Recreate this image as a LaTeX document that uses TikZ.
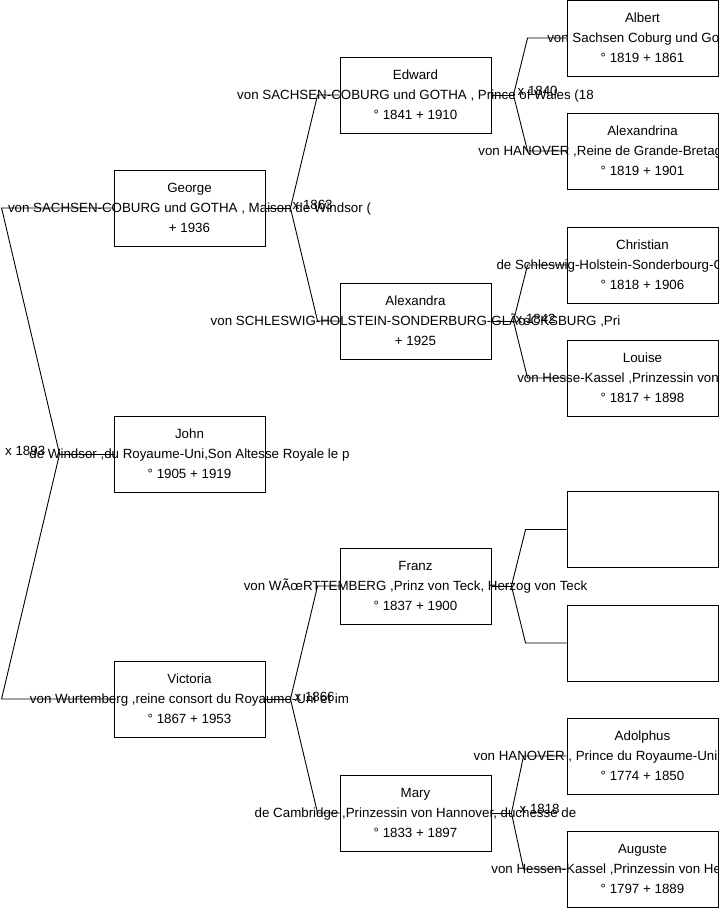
\documentclass[tikz,border=0pt]{standalone}
\usepackage{fontspec}
\setmainfont{Liberation Sans}
\usetikzlibrary{calc}
\begin{document}
\begin{tikzpicture}[x=1pt,y=-1pt,
  pbox/.style={draw=black,line width=0.9pt,minimum width=151pt,minimum height=76pt,inner sep=0pt},
  ptxt/.style={align=center,inner sep=0pt,font=\fontsize{13.33}{20}\selectfont},
  mtxt/.style={anchor=west,inner sep=0pt,font=\fontsize{13.33}{16}\selectfont},
  link/.style={draw=black,line width=0.9pt}]
\useasboundingbox (0,0) rectangle (719,908);

% boxes
\node[pbox] (geo) at (189.5,208) {};
\node[pbox] (joh) at (189.5,454) {};
\node[pbox] (vic) at (189.5,699) {};
\node[pbox] (edw) at (415.5,95) {};
\node[pbox] (alx) at (415.5,321) {};
\node[pbox] (fra) at (415.5,586) {};
\node[pbox] (mar) at (415.5,813) {};
\node[pbox] (alb) at (642.5,38) {};
\node[pbox] (alxa) at (642.5,151) {};
\node[pbox] (chr) at (642.5,265) {};
\node[pbox] (lou) at (642.5,378) {};
\node[pbox] (bla) at (642.5,529.5) {};
\node[pbox] (blb) at (642.5,643) {};
\node[pbox] (ado) at (642.5,756) {};
\node[pbox] (aug) at (642.5,869) {};

% texts
\node[ptxt] (geoT) at (geo) {George\\von SACHSEN-COBURG und GOTHA , Maison de Windsor (\\+ 1936};
\node[ptxt] (johT) at (joh) {John\\de Windsor ,du Royaume-Uni,Son Altesse Royale le p\\° 1905 + 1919};
\node[ptxt] (vicT) at (vic) {Victoria\\von Wurtemberg ,reine consort du Royaume-Uni et im\\° 1867 + 1953};
\node[ptxt] (edwT) at (edw) {Edward\\von SACHSEN-COBURG und GOTHA , Prince of Wales (18\\° 1841 + 1910};
\node[ptxt] (alxT) at (alx) {Alexandra\\von SCHLESWIG-HOLSTEIN-SONDERBURG-GLÃ\oe{}CKSBURG ,Pri\\+ 1925};
\node[ptxt] (fraT) at (fra) {Franz\\von WÃ\oe{}RTTEMBERG ,Prinz von Teck, Herzog von Teck\\° 1837 + 1900};
\node[ptxt] (marT) at (mar) {Mary\\de Cambridge ,Prinzessin von Hannover, duchesse de\\° 1833 + 1897};
\node[ptxt] (albT) at (alb) {Albert\\von Sachsen Coburg und Gotha\\° 1819 + 1861};
\node[ptxt] (alxaT) at (alxa) {Alexandrina\\von HANOVER ,Reine de Grande-Bretagne et d'Irlande\\° 1819 + 1901};
\node[ptxt] (chrT) at (chr) {Christian\\de Schleswig-Holstein-Sonderbourg-Glücksbourg\\° 1818 + 1906};
\node[ptxt] (louT) at (lou) {Louise\\von Hesse-Kassel ,Prinzessin von Hessen\\° 1817 + 1898};
\node[ptxt] (adoT) at (ado) {Adolphus\\von HANOVER , Prince du Royaume-Uni ,duc de Cambri\\° 1774 + 1850};
\node[ptxt] (augT) at (aug) {Auguste\\von Hessen-Kassel ,Prinzessin von Hessen-Kassel\\° 1797 + 1889};

% connectors
\coordinate (vR) at ($(joh.west)+(-54,0)$);
\draw[link] (joh.west) -- (vR);
\draw[link] (vR) -- ($(geo.west)+(-112,0)$) -- (geo.west);
\draw[link] (vR) -- ($(vic.west)+(-112,0)$) -- (vic.west);

\coordinate (vG) at ($(geo.east)+(25,0)$);
\draw[link] (geo.east) -- (vG);
\draw[link] (vG) -- ($(edw.west)+(-22,0)$) -- (edw.west);
\draw[link] (vG) -- ($(alx.west)+(-22,0)$) -- (alx.west);

\coordinate (vV) at ($(vic.east)+(25,0)$);
\draw[link] (vic.east) -- (vV);
\draw[link] (vV) -- ($(fra.west)+(-22,0)$) -- (fra.west);
\draw[link] (vV) -- ($(mar.west)+(-22,0)$) -- (mar.west);

\coordinate (vE) at ($(edw.east)+(22,0)$);
\draw[link] (edw.east) -- (vE);
\draw[link] (vE) -- ($(alb.west)+(-39,0)$) -- (alb.west);
\draw[link] (vE) -- ($(alxa.west)+(-39,0)$) -- (alxa.west);

\coordinate (vA) at ($(alx.east)+(22,0)$);
\draw[link] (alx.east) -- (vA);
\draw[link] (vA) -- ($(chr.west)+(-39,0)$) -- (chr.west);
\draw[link] (vA) -- ($(lou.west)+(-39,0)$) -- (lou.west);

\coordinate (vF) at ($(fra.east)+(20,0)$);
\draw[link] (fra.east) -- (vF);
\draw[link] (vF) -- ($(bla.west)+(-41,0)$) -- (bla.west);
\draw[link] (vF) -- ($(blb.west)+(-41,0)$) -- (blb.west);

\coordinate (vM) at ($(mar.east)+(20,0)$);
\draw[link] (mar.east) -- (vM);
\draw[link] (vM) -- ($(ado.west)+(-43,0)$) -- (ado.west);
\draw[link] (vM) -- ($(aug.west)+(-43,0)$) -- (aug.west);

% marriage labels
\node[mtxt] (mR) at (5,451) {x 1893};
\node[mtxt] (mG) at ($(vG)+(2,-3)$) {x 1863};
\node[mtxt] (mV) at ($(vV)+(4,-2)$) {x 1866};
\node[mtxt] (mE) at ($(vE)+(4,-4)$) {x 1840};
\node[mtxt] (mA) at ($(vA)+(2,-2)$) {x 1842};
\node[mtxt] (mM) at ($(vM)+(8,-4)$) {x 1818};
\end{tikzpicture}
\end{document}
